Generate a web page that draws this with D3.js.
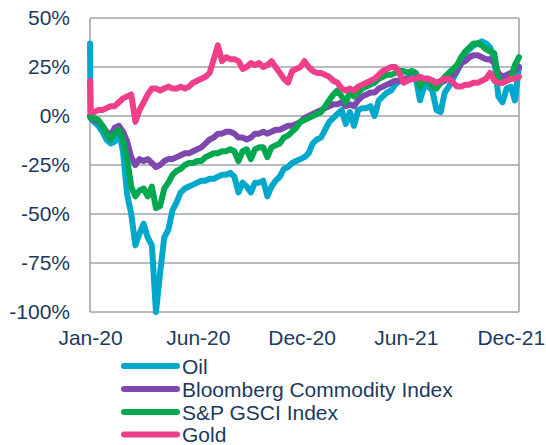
<!DOCTYPE html>
<html>
<head>
<meta charset="utf-8">
<script src="https://cdn.jsdelivr.net/npm/d3@7"></script>
<style>
  html, body { margin: 0; padding: 0; background: #fff; }
  svg { display: block; font-family: "Liberation Sans", Arial, sans-serif; }
</style>
</head>
<body>
<svg id="chart" width="546" height="445"></svg>
<script>
const dates = ["2020-01-02","2020-01-03","2020-01-09","2020-01-16","2020-01-23","2020-01-30","2020-02-06","2020-02-13","2020-02-20","2020-02-27","2020-03-05","2020-03-12","2020-03-19","2020-03-26","2020-04-02","2020-04-09","2020-04-16","2020-04-23","2020-04-30","2020-05-07","2020-05-14","2020-05-21","2020-05-28","2020-06-04","2020-06-11","2020-06-18","2020-06-25","2020-07-02","2020-07-09","2020-07-16","2020-07-23","2020-07-30","2020-08-06","2020-08-13","2020-08-20","2020-08-27","2020-09-03","2020-09-10","2020-09-17","2020-09-24","2020-10-01","2020-10-08","2020-10-15","2020-10-22","2020-10-29","2020-11-05","2020-11-12","2020-11-19","2020-11-26","2020-12-03","2020-12-10","2020-12-17","2020-12-24","2020-12-31",
"2021-01-07","2021-01-14","2021-01-21","2021-01-28","2021-02-04","2021-02-11","2021-02-18","2021-02-25","2021-03-04","2021-03-11","2021-03-18","2021-03-25","2021-04-01","2021-04-08","2021-04-15","2021-04-22","2021-04-29","2021-05-06","2021-05-13","2021-05-20","2021-05-27","2021-06-03","2021-06-10","2021-06-17","2021-06-24","2021-07-01","2021-07-08","2021-07-15","2021-07-22","2021-07-29","2021-08-05","2021-08-12","2021-08-19","2021-08-26","2021-09-02","2021-09-09","2021-09-16","2021-09-23","2021-09-30","2021-10-07","2021-10-14","2021-10-21","2021-10-28","2021-11-04","2021-11-11","2021-11-18","2021-11-25","2021-12-02","2021-12-09","2021-12-16","2021-12-23","2021-12-30"];

const oil = [37, -1,-3,-5,-8,-12,-14,-13,-8,-18,-40, -50,-66,-60,-55,-62,-66,-100,-80,-62,-58, -48,-44,-39,-37,-36,-35,-34,-33,-33,-32, -32,-31,-30,-30,-29,-31,-39,-34,-36,-39, -34,-34,-33,-41,-36,-33,-31,-27,-26,-24, -23,-22,-21,-19,-14,-12,-11,-7,-3,-1, 1,3,-4,2,-5,3,4,4,5,0, 8,10,12,13,16,18,19,19,20,19, 8,15,15,13,3,2,12,15,19,23, 27,32,34,36,37,38,37,35,29,10, 7,14,15,8,25];

const bloomberg = [0, -1,-2,-3,-5,-8,-10,-6,-5,-8,-13, -21,-25,-22,-23,-22,-24,-26,-25,-23,-22, -22,-21,-20,-19,-19,-18,-17,-16,-14,-12, -11,-9,-9,-8,-8,-9,-11,-11,-12,-11, -9,-9,-8,-9,-8,-7,-7,-6,-5,-5, -4,-3,-1,0,1,2,3,4,5,6, 6,7,5,6,5,8,10,11,12,12, 14,15,16,17,18,18,19,19,19,19, 18,19,19,18,17,17,18,20,21,23, 27,28,30,31,31,30,29,29,27,22, 20,21,22,23,25];

const gsci = [0, -1,-1,-2,-5,-9,-12,-9,-7,-12,-22, -36,-41,-38,-37,-41,-36,-47,-46,-37,-34, -30,-28,-27,-25,-24,-24,-23,-23,-21,-20, -19,-19,-18,-18,-17,-18,-23,-18,-17,-22, -17,-16,-16,-21,-16,-15,-14,-11,-10,-8, -6,-3,-2,-1,0,1,2,5,8,11, 13,10,7,12,10,12,14,15,16,17, 19,20,21,21,22,23,23,22,23,22, 15,18,18,15,14,17,20,22,24,26, 30,33,35,37,37,36,34,33,32,18, 17,18,19,26,30];

const gold = [18, 2,2,3,3,4,5,5,7,9,10, 11,-3,3,7,11,14,14,13,14,15, 14,14,15,14,15,17,18,19,20,22, 29,36,28,30,29,29,28,24,25,27, 26,27,25,26,28,25,22,19,17,23, 24,25,28,25,23,22,22,21,20,18, 17,14,13,14,13,15,16,17,18,19, 21,23,24,25,25,22,17,18,19,19, 20,19,19,18,17,18,19,19,17,15, 15,16,16,17,17,18,19,22,18,17, 17,18,19,19,20];

const seriesNames = ["Oil", "Bloomberg Commodity Index", "S&P GSCI Index", "Gold"];
const seriesColors = ["#00A8CB", "#7E48AE", "#00A84F", "#EF3F8B"];
const seriesValues = [oil, bloomberg, gsci, gold];

const yTicks = [-100, -75, -50, -25, 0, 25, 50];
const xTickDates = ["2020-01-02", "2020-07-03", "2020-12-26", "2021-06-21", "2021-12-16"];
const xTickLabels = ["Jan-20", "Jun-20", "Dec-20", "Jun-21", "Dec-21"];

const parse = d3.timeParse("%Y-%m-%d");
const svg = d3.select("#chart");
const textColor = "#1B3A5E";
const gridColor = "#A2A6AA";

const x = d3.scaleTime().domain([parse(dates[0]), parse(dates[dates.length - 1])]).range([90, 519]);
const y = d3.scaleLinear().domain([-100, 50]).range([312, 18]);

// grid
svg.append("g").selectAll("line").data(yTicks).join("line")
  .attr("x1", x.range()[0]).attr("x2", x.range()[1])
  .attr("y1", d => y(d)).attr("y2", d => y(d))
  .attr("stroke", gridColor).attr("stroke-width", 1.6);
svg.append("g").selectAll("line").data(x.range()).join("line")
  .attr("x1", d => d).attr("x2", d => d)
  .attr("y1", y(50)).attr("y2", y(-100))
  .attr("stroke", gridColor).attr("stroke-width", 1.6);

// axes
const yAxis = svg.append("g").attr("transform", `translate(${x.range()[0]},0)`)
  .call(d3.axisLeft(y).tickValues(yTicks).tickFormat(d => d + "%").tickSize(0).tickPadding(20));
yAxis.select(".domain").remove();
yAxis.selectAll("text").attr("fill", textColor).style("font-size", "21px");

const xAxis = svg.append("g").attr("transform", `translate(0,${y.range()[0]})`)
  .call(d3.axisBottom(x).tickValues(xTickDates.map(parse)).tickFormat((d, i) => xTickLabels[i]).tickSize(0).tickPadding(18));
xAxis.select(".domain").remove();
xAxis.selectAll("text").attr("fill", textColor).style("font-size", "21px");

// lines
const line = d3.line().x((d, i) => x(parse(dates[i]))).y(d => y(d));
seriesValues.forEach((vals, k) => {
  svg.append("path").datum(vals)
    .attr("d", line)
    .attr("fill", "none")
    .attr("stroke", seriesColors[k])
    .attr("stroke-width", 6)
    .attr("stroke-linejoin", "round")
    .attr("stroke-linecap", "round");
});

// legend
const legend = svg.append("g");
const legendY = [366, 389, 412, 434.5];
seriesNames.forEach((name, k) => {
  legend.append("line")
    .attr("x1", 124).attr("x2", 177)
    .attr("y1", legendY[k]).attr("y2", legendY[k])
    .attr("stroke", seriesColors[k]).attr("stroke-width", 6).attr("stroke-linecap", "round");
  legend.append("text")
    .attr("x", 182).attr("y", legendY[k]).attr("dy", "0.36em")
    .attr("fill", textColor).style("font-size", "21px")
    .text(name);
});
</script>
</body>
</html>
